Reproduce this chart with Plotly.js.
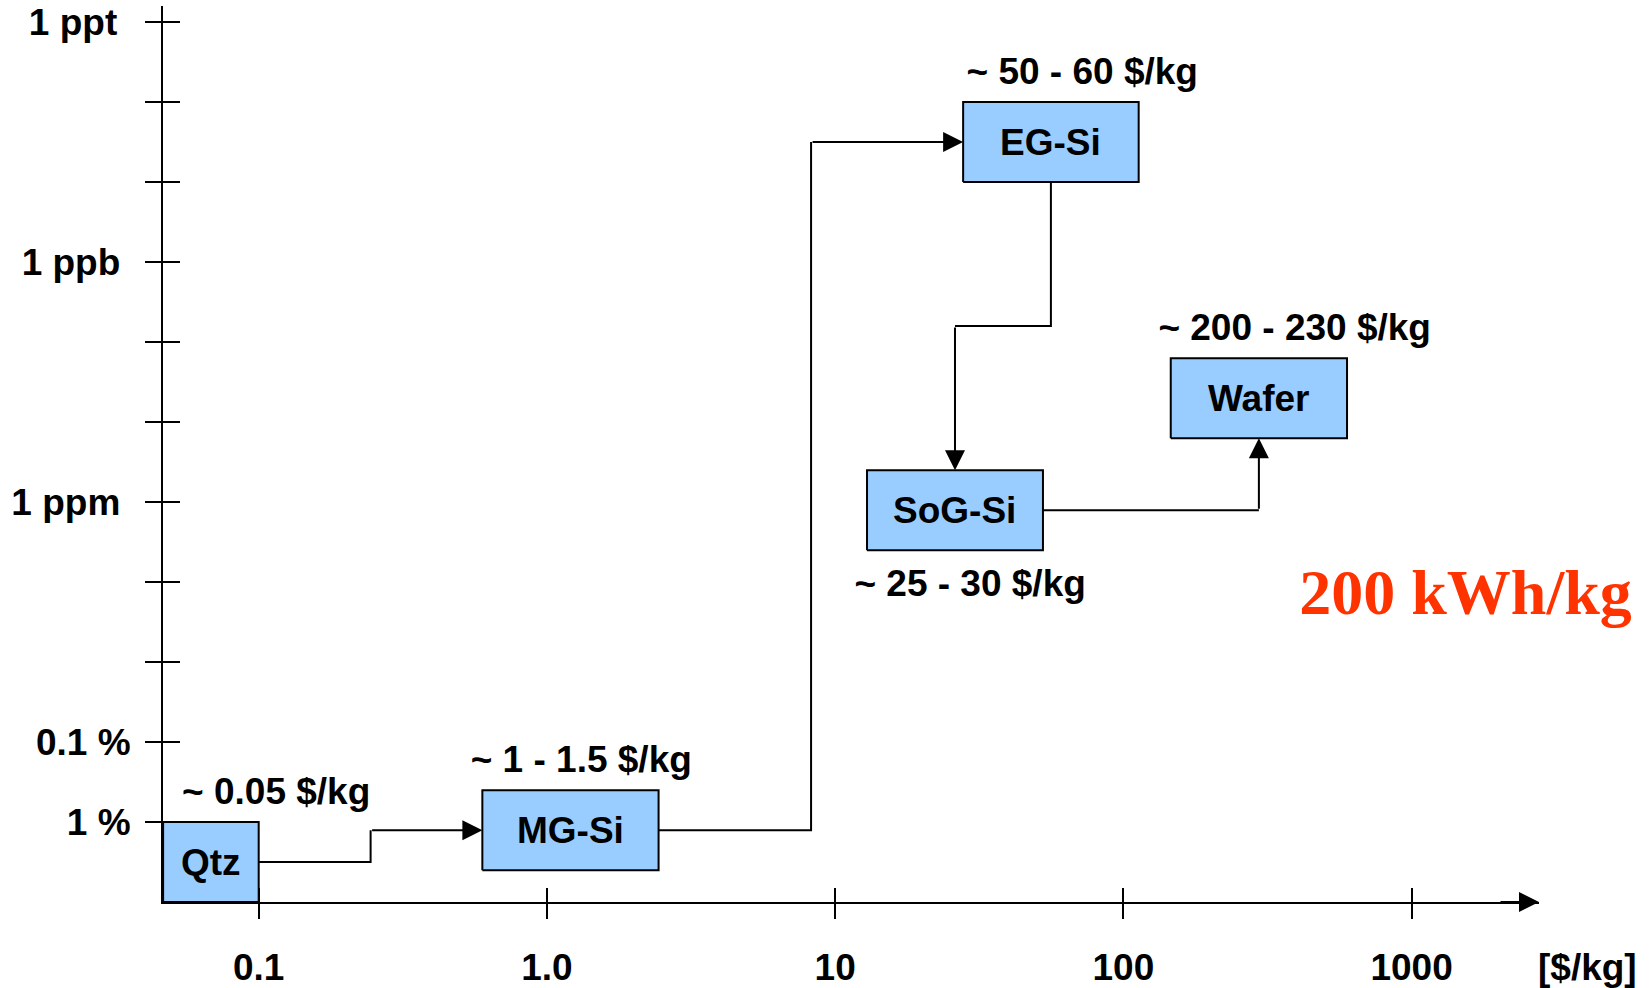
<!DOCTYPE html>
<html><head><meta charset="utf-8">
<script src="https://cdn.plot.ly/plotly-3.0.1.min.js"></script>
<style>html,body{margin:0;padding:0;background:#fff}#chart{width:1652px;height:988px}</style>
</head><body><div id="chart"></div>
<script>
// ---- data ----
const stages      = ["Qtz", "MG-Si", "EG-Si", "SoG-Si", "Wafer"];
const priceLow    = [0.0466, 0.597, 27.8, 12.9, 146];     // $/kg
const priceHigh   = [0.1,    2.44,  113,  52.6, 597];     // $/kg
const impurityHigh= [1e-1,   4e-2,  1e-10, 4e-6, 1.6e-7]; // fraction
const impurityLow = [1e-2,   4e-3,  1e-11, 4e-7, 1.6e-8];

const priceLabels = ["~ 0.05 $/kg", "~ 1 - 1.5 $/kg", "~ 50 - 60 $/kg", "~ 25 - 30 $/kg", "~ 200 - 230 $/kg"];
const priceLabelX = [0.115, 1.316, 72.0, 29.4, 393];
const priceLabelY = [4.62e-3, 1.82e-3, 4.57e-12, 1.15e-5, 7.25e-9];

const energyLabel = "200 kWh/kg";
const energyX = 1538, energyY = 1.58e-5;

// route elbows (data units)
const elbowQtzMG = 0.2445;   // $/kg
const elbowMGEG  = 8.25;     // $/kg
const elbowEGSoG = 6.3e-9;   // impurity

const xTickVals = [0.1, 1, 10, 100, 1000];
const xTickText = ["0.1", "1.0", "10", "100", "1000"];
const yTickVals = [1e-2,1e-3,1e-4,1e-5,1e-6,1e-7,1e-8,1e-9,1e-10,1e-11,1e-12];
const yTickText = ["1 %","0.1 %","","","1 ppm\u00A0","","","1 ppb\u00A0","","","1 ppt\u00A0\u200A"];

const xRange = [-1.332, 3.442];   // log10 $/kg
const yRange = [-1, -12.2];       // log10 impurity (reversed: purer is up)

// ---- build ----
const FONT = "Liberation Sans, Arial, sans-serif";
const gm = (a,b) => Math.sqrt(a*b);
const L = Math.log10;
const cx = stages.map((s,i)=>gm(priceLow[i],priceHigh[i]));
const cy = stages.map((s,i)=>gm(impurityLow[i],impurityHigh[i]));
const boldFont = {family:FONT,size:37,color:'#000',weight:'bold'};

const traces = [];
stages.forEach((s,i)=>{
  traces.push({
    type:'scatter', mode:'lines', fill:'toself', fillcolor:'#99CCFF',
    x:[priceLow[i],priceHigh[i],priceHigh[i],priceLow[i],priceLow[i]],
    y:[impurityHigh[i],impurityHigh[i],impurityLow[i],impurityLow[i],impurityHigh[i]],
    line:{color:'#000',width:2}, cliponaxis:false, hoverinfo:'skip', showlegend:false
  });
});

// connector polylines (last segment drawn by arrow annotations)
const lineStyle = {color:'#000', width:2};
const routes = [
  {x:[priceHigh[0], elbowQtzMG, elbowQtzMG], y:[cy[0], cy[0], cy[1]]},
  {x:[priceHigh[1], elbowMGEG, elbowMGEG], y:[cy[1], cy[1], cy[2]]},
  {x:[cx[2], cx[2], cx[3]], y:[impurityHigh[2], elbowEGSoG, elbowEGSoG]},
  {x:[priceHigh[3], cx[4]], y:[cy[3], cy[3]]}
];
routes.forEach(r=>traces.push({type:'scatter',mode:'lines',x:r.x,y:r.y,line:lineStyle,hoverinfo:'skip',showlegend:false,cliponaxis:false}));

traces.push({type:'scatter', mode:'text', x:priceLabelX, y:priceLabelY, text:priceLabels,
  textfont:boldFont, hoverinfo:'skip', showlegend:false, cliponaxis:false});
traces.push({type:'scatter', mode:'text', x:[energyX], y:[energyY], text:[energyLabel],
  textfont:{family:"Liberation Serif, Times New Roman, serif",size:64,color:'#FF3300',weight:'bold'}, hoverinfo:'skip', showlegend:false, cliponaxis:false});
// dummy trace for overlay axes (inside half of the crossing ticks)
traces.push({type:'scatter', mode:'markers', x:[], y:[], xaxis:'x2', yaxis:'y2', showlegend:false});

const annotations = [];
// box names
stages.forEach((s,i)=>annotations.push({text:s, showarrow:false, xref:'x', yref:'y', x:L(cx[i]), y:L(cy[i]),
  xanchor:'center', yanchor:'middle', yshift:0, font:boldFont}));

const arrowBase = {showarrow:true, text:'', arrowhead:2, arrowsize:2, arrowwidth:2, arrowcolor:'#000', xref:'x', yref:'y', axref:'x', ayref:'y'};
[
  {x:L(priceLow[1]), y:L(cy[1]), ax:L(elbowQtzMG), ay:L(cy[1])},
  {x:L(priceLow[2]), y:L(cy[2]), ax:L(elbowMGEG), ay:L(cy[2])},
  {x:L(cx[3]), y:L(impurityLow[3]), ax:L(cx[3]), ay:L(elbowEGSoG)},
  {x:L(cx[4]), y:L(impurityHigh[4]), ax:L(cx[4]), ay:L(cy[3])}
].forEach(a=>annotations.push(Object.assign({}, arrowBase, a)));
// x-axis arrow
annotations.push({showarrow:true, text:'', arrowhead:2, arrowsize:2, arrowwidth:2, arrowcolor:'#000',
  xref:'x', yref:'y', x:xRange[1], y:yRange[0], ax:-40, ay:0});
annotations.push({text:'[$/kg]', showarrow:false, xref:'paper', yref:'paper', x:1.035, y:0, yshift:-65,
  xanchor:'center', yanchor:'middle', font:boldFont});

const axCommon = {showgrid:false, zeroline:false, showline:true, linecolor:'#000', linewidth:2,
  ticks:'outside', tickwidth:2, tickcolor:'#000', tickfont:boldFont};

const layout = {
  width:1652, height:988, paper_bgcolor:'#fff', plot_bgcolor:'#fff',
  margin:{l:163, r:113, t:6, b:86}, showlegend:false,
  xaxis:Object.assign({}, axCommon, {type:'log', range:xRange, tickmode:'array', tickvals:xTickVals, ticktext:xTickText, ticklen:15, ticklabelstandoff:17}),
  yaxis:Object.assign({}, axCommon, {type:'log', range:yRange, tickmode:'array', tickvals:yTickVals, ticktext:yTickText, ticklen:16, ticklabelstandoff:7}),
  xaxis2:{type:'log', range:xRange, overlaying:'x', anchor:'y2', tickmode:'array', tickvals:xTickVals, ticks:'inside', ticklen:14, tickwidth:2, tickcolor:'#000', showticklabels:false, showgrid:false, zeroline:false, showline:false},
  yaxis2:{type:'log', range:yRange, overlaying:'y', anchor:'x2', tickmode:'array', tickvals:yTickVals, ticks:'inside', ticklen:17, tickwidth:2, tickcolor:'#000', showticklabels:false, showgrid:false, zeroline:false, showline:false},
  annotations:annotations
};
Plotly.newPlot('chart', traces, layout, {staticPlot:true, displayModeBar:false});
</script></body></html>
